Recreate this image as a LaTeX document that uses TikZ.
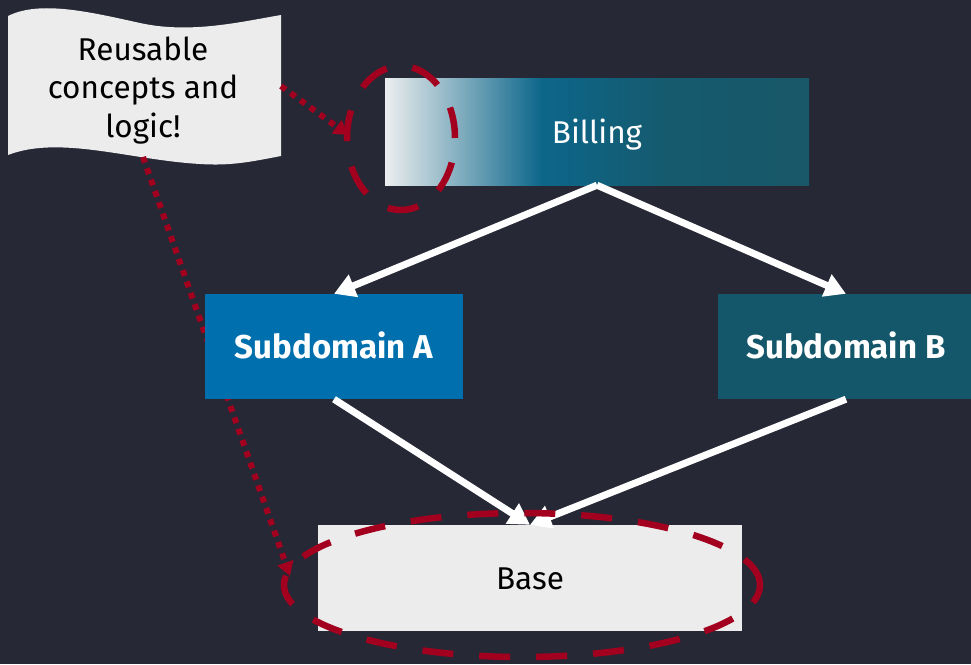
\documentclass[tikz,border=0pt]{standalone}
\usepackage{fontspec}
\setmainfont{Fira Sans}
\usetikzlibrary{arrows.meta}
\definecolor{bg}{RGB}{38,40,53}
\definecolor{gA}{RGB}{236,238,239}
\definecolor{gB}{RGB}{12,102,138}
\definecolor{gC}{RGB}{22,90,110}
\definecolor{gD}{RGB}{24,88,104}
\definecolor{subAc}{RGB}{0,111,173}
\definecolor{subBc}{RGB}{20,87,106}
\definecolor{basec}{RGB}{236,236,236}
\definecolor{notec}{RGB}{236,236,236}
\definecolor{redc}{RGB}{162,0,30}
\pgfdeclarehorizontalshading{billgrad}{100bp}{color(0bp)=(gA); color(25bp)=(gA); color(43.5bp)=(gB); color(58bp)=(gC); color(75bp)=(gD); color(100bp)=(gD)}
\tikzset{
  txt/.style={font=\fontsize{31.5}{38}\selectfont},
  btxt/.style={font=\fontsize{33}{38}\selectfont\bfseries},
  boxnode/.style={inner sep=0pt, text height=23pt, text depth=0pt},
  warrow/.style={draw=white, line width=7pt, -{Triangle[length=21pt,width=23pt]}},
  reddash/.style={draw=redc, line width=6.5pt, dash pattern=on 31pt off 26pt},
  reddot/.style={draw=redc, line width=6pt, dash pattern=on 6pt off 6pt, -{Triangle[length=14pt,width=16pt]}},
}
\begin{document}
\begin{tikzpicture}[x=1pt,y=-1pt]
\fill[bg] (0,0) rectangle (971,664);
\useasboundingbox (0,0) rectangle (971,664);
% note
\fill[notec] (8,16) .. controls (40,0) and (90,12) .. (140,23) .. controls (190,34) and (240,22) .. (281,15) -- (281,156) .. controls (250,162) and (230,166) .. (200,164) .. controls (130,160) and (60,135) .. (8,155) -- cycle;
\node[txt, anchor=base, inner sep=0pt] (l1) at (143,60) {Reusable};
\node[txt, anchor=base, inner sep=0pt] (l2) at (143,98) {concepts and};
\node[txt, anchor=base, inner sep=0pt] (l3) at (143,137) {logic!};
\coordinate (noteR) at (281,86);
\coordinate (noteB) at (143,157);
\coordinate (tip1) at (348,135);
\coordinate (tip2) at (290,576);
\draw[reddot] (noteR) -- (tip1);
\draw[reddot] (noteB) -- (tip2);
% boxes
\node[boxnode, txt, shading=billgrad, minimum width=424pt, minimum height=107pt, text=white] (bill) at (597,131.5) {Billing};
\node[boxnode, btxt, fill=subAc, minimum width=258pt, minimum height=105pt, text=white] (subA) at (334,346.5) {Subdomain A};
\node[boxnode, btxt, fill=subBc, minimum width=256pt, minimum height=105pt, text=white] (subB) at (846,346.5) {Subdomain B};
\node[boxnode, txt, fill=basec, minimum width=424pt, minimum height=106pt, text=black] (base) at (530,578) {Base};
% arrows
\draw[warrow] (bill.south) -- (subA.north);
\draw[warrow] (bill.south) -- (subB.north);
\draw[warrow] (subA.south) -- (base.north);
\draw[warrow] (subB.south) -- (base.north);
% ellipses
\draw[reddash] (401,138) ellipse [x radius=54pt, y radius=72pt];
\draw[reddash] (522,585) ellipse [x radius=238pt, y radius=72pt];
\end{tikzpicture}
\end{document}
